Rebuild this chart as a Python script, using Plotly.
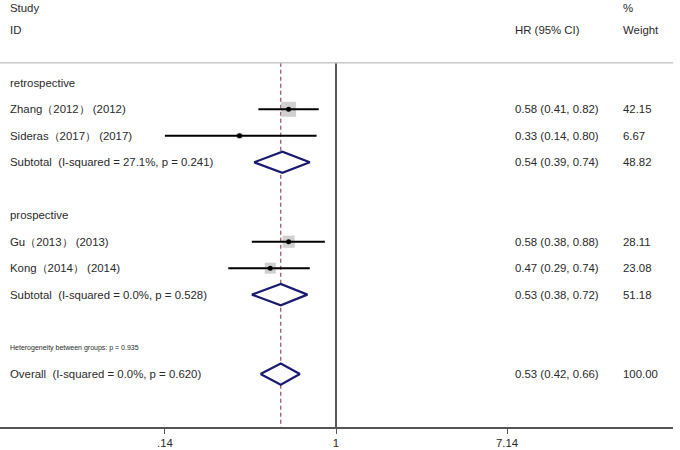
import plotly.graph_objects as go

# studies
study_names = ["Zhang（2012） (2012)", "Sideras（2017） (2017)", "Gu（2013） (2013)", "Kong（2014） (2014)"]
study_hr = [0.58, 0.33, 0.58, 0.47]
study_lo = [0.41, 0.14, 0.38, 0.29]
study_hi = [0.82, 0.80, 0.88, 0.74]
study_weight = [42.15, 6.67, 28.11, 23.08]
study_row = [2, 3, 7, 8]

# subtotals and overall
pooled_names = ["Subtotal  (I-squared = 27.1%, p = 0.241)",
                "Subtotal  (I-squared = 0.0%, p = 0.528)",
                "Overall  (I-squared = 0.0%, p = 0.620)"]
pooled_hr = [0.54, 0.53, 0.53]
pooled_lo = [0.39, 0.38, 0.42]
pooled_hi = [0.74, 0.72, 0.66]
pooled_weight = [48.82, 51.18, 100.00]
pooled_row = [4, 9, 12]

group_names = ["retrospective", "prospective"]
group_row = [1, 6]
het_text = "Heterogeneity between groups: p = 0.935"
het_row = 11

tick_vals = [0.14, 1, 7.14]
tick_text = [".14", "1", "7.14"]

FONT = "Liberation Sans, Arial, sans-serif"
TXT = "#2a2a2a"
NAVY = "#1a1a70"
top_row = 0.245
bottom_row = 14

fig = go.Figure()

# reference line at 1 and dashed line at overall estimate
fig.add_trace(go.Scatter(x=[1, 1], y=[top_row, bottom_row], mode="lines",
                         line=dict(color="#222222", width=1.5), hoverinfo="skip"))
fig.add_trace(go.Scatter(x=[pooled_hr[-1]] * 2, y=[top_row, bottom_row], mode="lines",
                         line=dict(color="#9a4858", width=1.2, dash="4px,3px"), hoverinfo="skip"))

# weight boxes
fig.add_trace(go.Scatter(x=study_hr, y=study_row, mode="markers",
                         marker=dict(symbol="square", color="#bcbcbc",
                                     size=[2.3 * w ** 0.5 for w in study_weight], line=dict(width=0)),
                         hoverinfo="skip"))

# confidence intervals
for lo, hi, r in zip(study_lo, study_hi, study_row):
    fig.add_trace(go.Scatter(x=[lo, hi], y=[r, r], mode="lines",
                             line=dict(color="black", width=2), hoverinfo="skip"))

# point estimates
fig.add_trace(go.Scatter(x=study_hr, y=study_row, mode="markers",
                         marker=dict(symbol="circle", color="black", size=5), hoverinfo="skip"))

# diamonds
for hr, lo, hi, r in zip(pooled_hr, pooled_lo, pooled_hi, pooled_row):
    fig.add_trace(go.Scatter(x=[lo, hr, hi, hr, lo], y=[r, r - 0.4, r, r + 0.4, r],
                             mode="lines", fill="toself", fillcolor="white",
                             line=dict(color=NAVY, width=2.2), hoverinfo="skip"))

# separator line under header
fig.add_shape(type="line", xref="paper", x0=0, x1=1, y0=top_row, y1=top_row,
              line=dict(color="#c8c8c8", width=1.5))

ann = []


def txt(x, y, s, size=11.4):
    ann.append(dict(x=x, y=y, xref="paper", yref="y", text=s, showarrow=False,
                    xanchor="left", yanchor="middle", font=dict(family=FONT, size=size, color=TXT)))


txt(0.012, -1.83, "Study")
txt(0.012, -1.0, "ID")
txt(0.762, -1.0, "HR (95% CI)")
txt(0.922, -1.83, "%")
txt(0.922, -1.0, "Weight")

for name, r in zip(group_names, group_row):
    txt(0.012, r, name)

for name, hr, lo, hi, w, r in zip(study_names, study_hr, study_lo, study_hi, study_weight, study_row):
    txt(0.012, r, name)
    txt(0.762, r, f"{hr:.2f} ({lo:.2f}, {hi:.2f})")
    txt(0.922, r, f"{w:.2f}")

for name, hr, lo, hi, w, r in zip(pooled_names, pooled_hr, pooled_lo, pooled_hi, pooled_weight, pooled_row):
    txt(0.012, r, name)
    txt(0.762, r, f"{hr:.2f} ({lo:.2f}, {hi:.2f})")
    txt(0.922, r, f"{w:.2f}")

txt(0.012, het_row, het_text, size=7)

fig.update_layout(
    width=680, height=450,
    margin=dict(l=0, r=7, t=0, b=23),
    plot_bgcolor="white", paper_bgcolor="white",
    showlegend=False,
    annotations=ann,
    xaxis=dict(type="log", range=[-1.677, 1.682], tickvals=tick_vals, ticktext=tick_text,
               showgrid=False, zeroline=False, showline=True, linecolor="#555555", linewidth=1.5,
               ticks="outside", ticklen=5, tickcolor="#555555",
               tickfont=dict(family=FONT, size=11.4, color=TXT)),
    yaxis=dict(range=[bottom_row, -2.13], visible=False, showgrid=False, zeroline=False),
)

# drop the browser's default page margin so the figure sits at the top-left corner
fig.write_html("out.html", config={"displayModeBar": False},
               post_script="document.body.style.margin='0';")
